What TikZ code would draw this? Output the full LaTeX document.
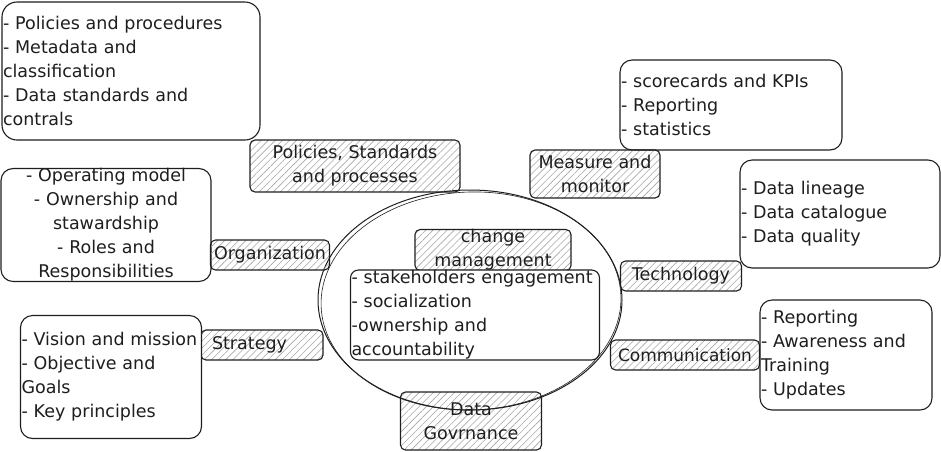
\documentclass[tikz,border=0pt]{standalone}
\usepackage{fontspec}
\setmainfont{DejaVu Sans}
\usetikzlibrary{patterns.meta}
\definecolor{ink}{HTML}{1E1E1E}
\definecolor{hatch}{HTML}{A6A6A6}
\begin{document}
\begin{tikzpicture}[x=1pt,y=-1pt,
  every node/.style={font=\fontsize{17.5}{24}\selectfont, text=ink},
  listbox/.style={draw=ink, line width=1.1pt, fill=white, rounded corners=12pt,
    inner xsep=1pt, inner ysep=0pt, align=left},
  hatchbox/.style={draw=ink, line width=1.1pt, rounded corners=5pt, inner sep=0pt,
    align=center, pattern={Lines[angle=45,distance=5pt,line width=0.6pt]},
    pattern color=hatch},
  ring/.style={draw=ink, line width=1pt},
]
\useasboundingbox (0,0) rectangle (941,451);

% Data Governance (under the ring)
\node[hatchbox, minimum width=141pt, minimum height=58pt] (dg) at (471,421) {Data\\Govrnance};

% the ring
\draw[ring] (470,300) ellipse [x radius=152pt, y radius=110pt];
\draw[ring, line width=0.6pt, rotate around={2:(471,301)}] (471,301) ellipse [x radius=150pt, y radius=109pt];

% change management
\node[hatchbox, minimum width=156pt, minimum height=36pt] (chg) at (493,250) {change\\management};
\node[listbox, minimum width=249pt, minimum height=90pt, text width=247pt, rounded corners=8pt] (stk) at (475,315)
  {- stakeholders engagement\\- socialization\\-ownership and\\accountability};

% top-left
\node[listbox, minimum width=258pt, minimum height=138pt, text width=256pt, rounded corners=15pt] (pol) at (131,71)
  {- Policies and procedures\\- Metadata and\\classification\\- Data standards and\\contrals};
\node[hatchbox, minimum width=210pt, minimum height=52pt] (psp) at (355,166) {Policies, Standards\\and processes};

% measure and monitor
\node[listbox, minimum width=222pt, minimum height=90pt, text width=220pt] (kpi) at (731,105)
  {- scorecards and KPIs\\- Reporting\\- statistics};
\node[hatchbox, minimum width=130pt, minimum height=48pt] (mm) at (595,174) {Measure and\\monitor};

% technology
\node[listbox, minimum width=200pt, minimum height=108pt, text width=198pt] (tec) at (840,214)
  {- Data lineage\\- Data catalogue\\- Data quality};
\node[hatchbox, minimum width=121pt, minimum height=30pt] (tech) at (681,276) {Technology};

% communication
\node[listbox, minimum width=172pt, minimum height=110pt, text width=170pt] (com) at (846,355)
  {- Reporting\\- Awareness and\\Training\\- Updates};
\node[hatchbox, minimum width=149pt, minimum height=30pt, font=\fontsize{17}{22}\selectfont] (comm) at (685,355) {Communication};

% organization
\node[listbox, minimum width=210pt, minimum height=110pt, text width=208pt, align=center] (org) at (106,225)
  {- Operating model\\- Ownership and\\stawardship\\- Roles and\\Responsibilities};
\node[hatchbox, minimum width=119pt, minimum height=30pt] (orgl) at (270,255) {Organization};

% strategy
\node[hatchbox, minimum width=122pt, minimum height=30pt, text width=100pt, align=left] (strl) at (262,345) {Strategy};
\node[listbox, minimum width=181pt, minimum height=123pt, text width=179pt] (str) at (111,377)
  {- Vision and mission\\- Objective and\\Goals\\- Key principles};
\end{tikzpicture}
\end{document}
